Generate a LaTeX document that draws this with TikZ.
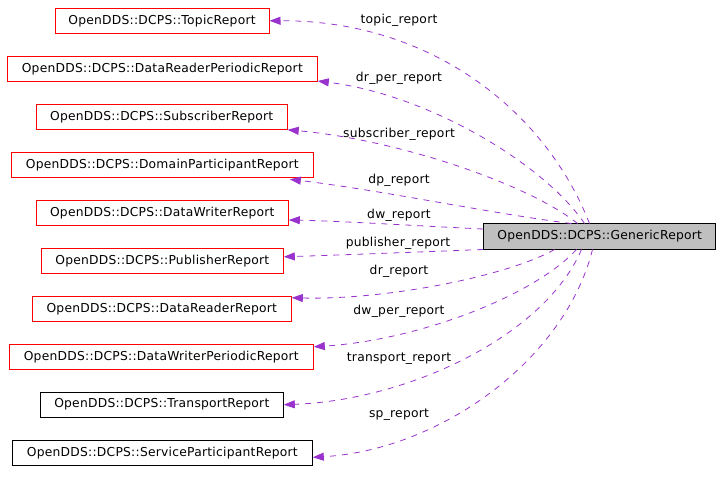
\documentclass[tikz,border=0pt]{standalone}
\usepackage{fontspec}
\setmainfont[LetterSpace=2]{DejaVu Sans}
\usetikzlibrary{arrows.meta,calc}
\definecolor{edgepurple}{HTML}{9A32CD}
\definecolor{boxred}{HTML}{FF0000}
\definecolor{genfill}{HTML}{BFBFBF}
\begin{document}
\begin{tikzpicture}[x=1pt,y=-1pt,
  lbl/.style={font=\fontsize{12.3}{14}\selectfont, inner sep=0pt},
  cls/.style={draw=boxred, line width=1pt, minimum height=25pt, inner sep=0pt, font=\fontsize{12.3}{14}\selectfont},
  clsblack/.style={cls, draw=black},
  gen/.style={cls, draw=black, fill=genfill},
  edge/.style={draw=edgepurple, line width=0.8pt, dash pattern=on 6pt off 6pt,
    -{Triangle[length=11pt,width=8pt]}}]
\useasboundingbox (0,0) rectangle (720,481);
% nodes
\node[cls, minimum width=214pt] (topic) at (162,20.8) {OpenDDS::DCPS::TopicReport};
\node[cls, minimum width=310pt] (drper) at (162.3,69) {OpenDDS::DCPS::DataReaderPeriodicReport};
\node[cls, minimum width=251pt] (sub) at (161.7,116.8) {OpenDDS::DCPS::SubscriberReport};
\node[cls, minimum width=302pt] (dp) at (162.3,164.8) {OpenDDS::DCPS::DomainParticipantReport};
\node[cls, minimum width=252pt] (dw) at (162.3,213) {OpenDDS::DCPS::DataWriterReport};
\node[cls, minimum width=242pt] (pub) at (162.3,260.8) {OpenDDS::DCPS::PublisherReport};
\node[cls, minimum width=259pt] (dr) at (161.8,308.8) {OpenDDS::DCPS::DataReaderReport};
\node[cls, minimum width=304pt] (dwper) at (161.3,356.8) {OpenDDS::DCPS::DataWriterPeriodicReport};
\node[clsblack, minimum width=243pt] (tr) at (161.8,404.7) {OpenDDS::DCPS::TransportReport};
\node[clsblack, minimum width=300pt] (sp) at (162.3,452.8) {OpenDDS::DCPS::ServiceParticipantReport};
\node[gen, minimum width=232pt] (g) at (599.7,236.5) {OpenDDS::DCPS::GenericReport};
% edges
\draw[edge] ($(g.north west)+(106.3,0)$) .. controls (545,110) and (430,20) .. (topic.east);
\draw[edge] ($(g.north west)+(101.3,0)$) .. controls (545,165) and (430,95) .. ($(drper.south east)+(0,-1)$);
\draw[edge] ($(g.north west)+(94.3,0)$) .. controls (530,185) and (400,140) .. (sub.south east);
\draw[edge] ($(g.north west)+(88.3,0)$) .. controls (500,215) and (380,190) .. ($(dp.south east)+(-24,1.5)$);
\draw[edge] ($(g.west)+(0,-7.5)$) .. controls (420,226) and (340,221) .. ($(dw.east)+(0,7)$);
\draw[edge] (g.south west) .. controls (420,252) and (340,255) .. ($(pub.east)+(0,-4)$);
\draw[edge] ($(g.south west)+(71.3,0)$) .. controls (510,275) and (390,300) .. ($(dr.north east)+(0,2)$);
\draw[edge] ($(g.south west)+(93.3,0)$) .. controls (535,295) and (420,340) .. ($(dwper.north east)+(0,3)$);
\draw[edge] ($(g.south west)+(98.3,0)$) .. controls (545,335) and (410,400) .. (tr.east);
\draw[edge] ($(g.south west)+(109.3,0)$) .. controls (565,360) and (440,450) .. ($(sp.east)+(0,4.5)$);
% labels
\node[lbl] (l1) at (399,20) {topic\_report};
\node[lbl] (l2) at (399,78) {dr\_per\_report};
\node[lbl] (l3) at (399,134) {subscriber\_report};
\node[lbl] (l4) at (399,180) {dp\_report};
\node[lbl] (l5) at (399,215) {dw\_report};
\node[lbl] (l6) at (398,243) {publisher\_report};
\node[lbl] (l7) at (399,271) {dr\_report};
\node[lbl] (l8) at (399,311) {dw\_per\_report};
\node[lbl] (l9) at (399,359) {transport\_report};
\node[lbl] (l10) at (399,415) {sp\_report};
\end{tikzpicture}
\end{document}
